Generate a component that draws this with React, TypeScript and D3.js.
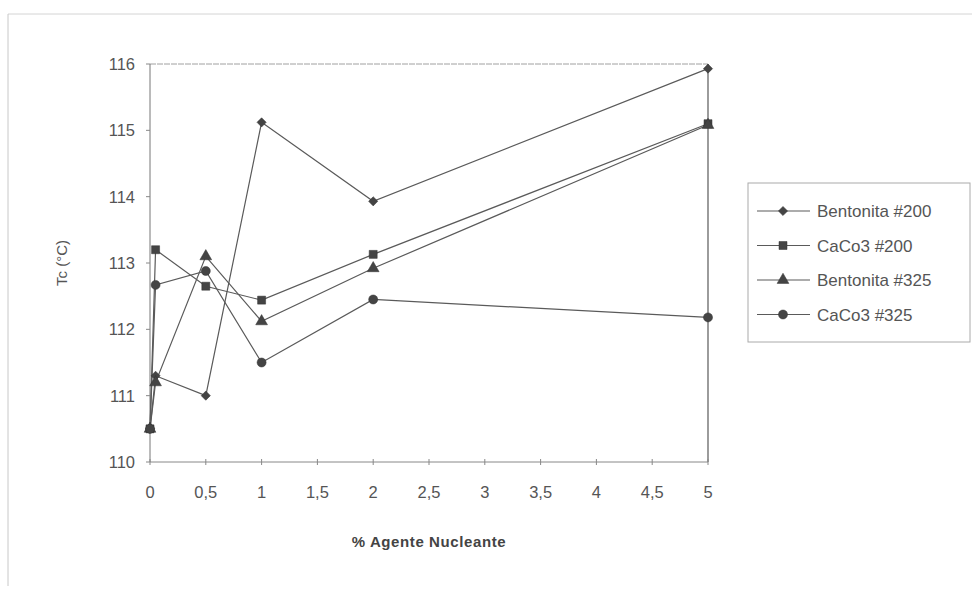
import React from "react";
import * as d3 from "d3";

const xValues = [0, 0.05, 0.5, 1, 2, 5];
const seriesNames = ["Bentonita #200", "CaCo3 #200", "Bentonita #325", "CaCo3 #325"];
const bentonita200 = [110.5, 111.3, 111.0, 115.12, 113.93, 115.93];
const caco3_200 = [110.5, 113.2, 112.65, 112.44, 113.13, 115.1];
const bentonita325 = [110.5, 111.2, 113.1, 112.12, 112.92, 115.08];
const caco3_325 = [110.5, 112.67, 112.88, 111.5, 112.45, 112.18];
const xTicks = [0, 0.5, 1, 1.5, 2, 2.5, 3, 3.5, 4, 4.5, 5];
const yTicks = [110, 111, 112, 113, 114, 115, 116];
const xTitle = "% Agente Nucleante";
const yTitle = "Tc (°C)";

const allSeries = [bentonita200, caco3_200, bentonita325, caco3_325];
const symbols = [d3.symbolSquare, d3.symbolSquare, d3.symbolTriangle, d3.symbolCircle];
const symbolSizes = [42, 64, 60, 64];
const symbolRot = [45, 0, 0, 0];

export default function App() {
  const W = 974, H = 594;
  const x = d3.scaleLinear().domain([0, 5]).range([150, 708]);
  const y = d3.scaleLinear().domain([110, 116]).range([462, 64]);
  const line = d3.line<number>().x((_, i) => x(xValues[i])).y((v) => y(v));
  const fmt = (v: number) => String(v).replace(".", ",");
  const font = "Liberation Sans, Arial, sans-serif";
  const lineColor = "#5a5a5a";
  const markColor = "#444";

  return (
    <svg width={W} height={H} style={{ position: "absolute", left: 0, top: 0, background: "#fff" }}>
      {/* outer chart border */}
      <line x1={8} y1={14} x2={972} y2={14} stroke="#d4d4d4" />
      <line x1={8} y1={14} x2={8} y2={586} stroke="#c8c8c8" />
      {/* plot area border */}
      <line x1={x(0)} y1={y(116)} x2={x(5)} y2={y(116)} stroke="#a0a0a0" strokeDasharray="6 1" />
      <line x1={x(5)} y1={y(116)} x2={x(5)} y2={y(110)} stroke="#666" strokeWidth={1.3} />
      {/* axes */}
      <line x1={x(0)} y1={y(110)} x2={x(5)} y2={y(110)} stroke="#888" />
      <line x1={x(0)} y1={y(110)} x2={x(0)} y2={y(116)} stroke="#777" />
      {xTicks.map((t) => (
        <g key={"xt" + t}>
          <line x1={x(t)} x2={x(t)} y1={y(110) - 3} y2={y(110) + 3} stroke="#888" />
          <text x={x(t)} y={y(110) + 36} textAnchor="middle" fontFamily={font} fontSize={16.5} fill="#555">
            {fmt(t)}
          </text>
        </g>
      ))}
      {yTicks.map((t) => (
        <g key={"yt" + t}>
          <line x1={x(0) - 4} x2={x(0)} y1={y(t)} y2={y(t)} stroke="#888" />
          <text x={135} y={y(t) + 6} textAnchor="end" fontFamily={font} fontSize={16.5} fill="#555">
            {t}
          </text>
        </g>
      ))}
      <text
        transform={`translate(67,${y(113)}) rotate(-90)`}
        textAnchor="middle"
        fontFamily={font}
        fontSize={15}
        fill="#555"
      >
        {yTitle}
      </text>
      <text x={429} y={547} textAnchor="middle" fontFamily={font} fontSize={15} fontWeight="bold" fill="#444" letterSpacing={0.6}>
        {xTitle}
      </text>
      {/* series lines */}
      {allSeries.map((s, si) => (
        <path key={"l" + si} d={line(s) || ""} fill="none" stroke={lineColor} strokeWidth={1.2} />
      ))}
      {/* markers */}
      {allSeries.map((s, si) =>
        s.map((v, i) => (
          <path
            key={"m" + si + "-" + i}
            d={d3.symbol().type(symbols[si]).size(symbolSizes[si])() || ""}
            transform={`translate(${x(xValues[i])},${y(v)}) rotate(${symbolRot[si]})`}
            fill={markColor}
            stroke="#333"
            strokeWidth={0.5}
          />
        ))
      )}
      {/* legend */}
      <rect x={748} y={183} width={222} height={159} fill="#fff" stroke="#aaa" />
      {seriesNames.map((name, i) => {
        const ly = 211 + i * 34.5;
        return (
          <g key={"lg" + i}>
            <line x1={757} x2={810} y1={ly} y2={ly} stroke={lineColor} strokeWidth={1.2} />
            <path
              d={d3.symbol().type(symbols[i]).size(symbolSizes[i])() || ""}
              transform={`translate(783,${ly}) rotate(${symbolRot[i]})`}
              fill={markColor}
              stroke="#333"
              strokeWidth={0.5}
            />
            <text x={817} y={ly + 6} fontFamily={font} fontSize={17} fill="#555">
              {name}
            </text>
          </g>
        );
      })}
    </svg>
  );
}
